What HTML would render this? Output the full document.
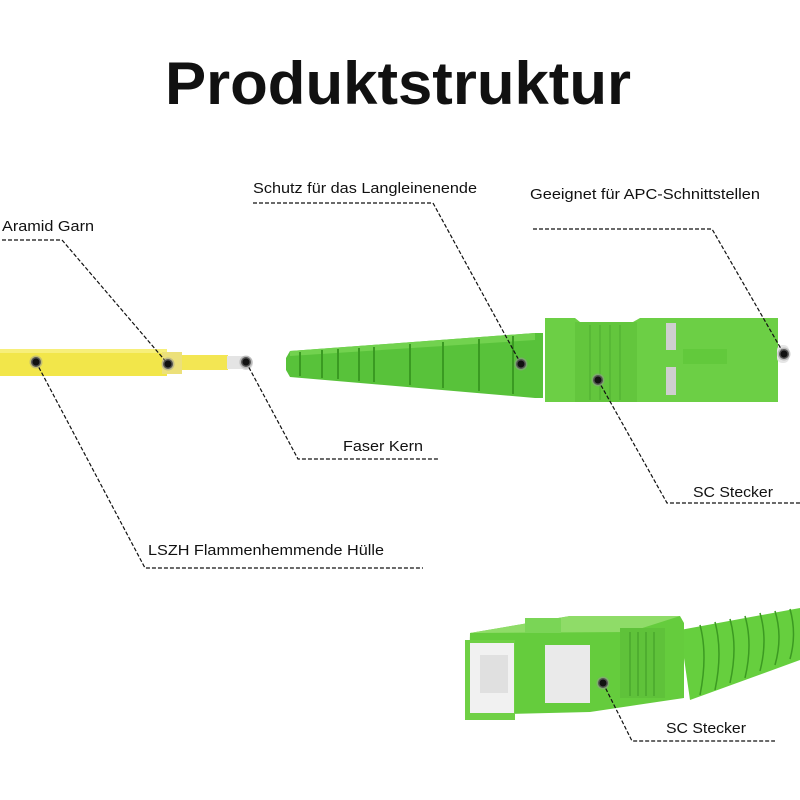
<!DOCTYPE html>
<html><head><meta charset="utf-8"><style>
html,body{margin:0;padding:0;background:#fff;}
svg{display:block;}
text{font-family:"Liberation Sans",Arial,sans-serif;fill:#111;}
</style></head><body>
<svg width="800" height="800" viewBox="0 0 800 800" xmlns="http://www.w3.org/2000/svg">
<text x="398" y="104" text-anchor="middle" font-size="60" font-weight="bold" textLength="466" lengthAdjust="spacingAndGlyphs" fill="#000">Produktstruktur</text>

<!-- yellow cable -->
<rect x="0" y="349" width="167" height="27" fill="#f2e64a"/>
<rect x="0" y="349" width="167" height="4" fill="#f7ef7a"/>
<rect x="162" y="352" width="20" height="22" fill="#ece07a"/>
<rect x="182" y="355" width="46" height="15" fill="#f3e653"/>
<rect x="227" y="356" width="22" height="13" fill="#e4e4e4"/>
<circle cx="246" cy="363" r="7" fill="#ddd"/>

<!-- green boot -->
<polygon points="290,351 535,333 543,333 543,398 535,398 290,377 286,370 286,358" fill="#58c23a"/>
<polygon points="290,351 535,333 535,340 290,356" fill="#72d24f"/>
<g stroke="#3a9a22" stroke-width="2">
<line x1="300" y1="352" x2="300" y2="376"/><line x1="322" y1="350" x2="322" y2="378"/>
<line x1="338" y1="349" x2="338" y2="379"/><line x1="359" y1="348" x2="359" y2="381"/>
<line x1="374" y1="347" x2="374" y2="382"/><line x1="410" y1="344" x2="410" y2="385"/>
<line x1="443" y1="342" x2="443" y2="388"/><line x1="479" y1="339" x2="479" y2="391"/>
<line x1="513" y1="336" x2="513" y2="394"/>
</g>

<!-- SC connector top -->
<polygon points="545,318 575,318 580,322 633,322 640,318 778,318 778,402 545,402" fill="#6ccf45"/>
<rect x="575" y="322" width="62" height="80" fill="#63c63d"/>
<g stroke="#55b535" stroke-width="1.5"><line x1="590" y1="325" x2="590" y2="400"/><line x1="600" y1="325" x2="600" y2="400"/><line x1="610" y1="325" x2="610" y2="400"/><line x1="620" y1="325" x2="620" y2="400"/></g>
<rect x="666" y="323" width="10" height="27" fill="#cfcfcf"/>
<rect x="666" y="367" width="10" height="28" fill="#cfcfcf"/>
<rect x="683" y="349" width="44" height="15" fill="#62c93c"/>
<rect x="777" y="345" width="12" height="18" rx="5" fill="#e6e6e6"/>

<!-- bottom connector -->
<polygon points="680,630 800,608 800,660 690,700" fill="#66cf3e"/>
<g stroke="#3c9a22" stroke-width="1.5" fill="none">
<path d="M700,625 q8,30 0,70"/><path d="M715,622 q8,30 0,68"/><path d="M730,619 q8,28 0,64"/><path d="M745,616 q8,28 0,62"/><path d="M760,613 q8,27 0,58"/><path d="M775,611 q8,26 0,54"/><path d="M790,609 q7,25 0,50"/>
</g>
<polygon points="470,633 570,616 680,616 684,623 684,698 590,712 468,715" fill="#65cc3d"/>
<polygon points="470,633 570,616 680,616 630,632" fill="#8fdc68"/>
<rect x="525" y="618" width="36" height="15" fill="#7ad556"/>
<rect x="465" y="640" width="50" height="80" fill="#6fd045"/>
<rect x="470" y="643" width="44" height="70" fill="#f1f1f1"/>
<rect x="480" y="655" width="28" height="38" fill="#e0e0e0"/>
<rect x="545" y="645" width="45" height="58" fill="#eaeaea"/>
<rect x="620" y="628" width="45" height="70" fill="#5fc23a"/>
<g stroke="#4aa82c" stroke-width="1.5"><line x1="630" y1="632" x2="630" y2="696"/><line x1="638" y1="632" x2="638" y2="696"/><line x1="646" y1="632" x2="646" y2="696"/><line x1="654" y1="632" x2="654" y2="696"/></g>

<!-- leader lines -->
<g stroke="#111" stroke-width="1.2" stroke-dasharray="4,2" fill="none">
<polyline points="2,240 62,240 168,364"/>
<polyline points="253,203 433,203 521,364"/>
<polyline points="533,229 712,229 784,354"/>
<polyline points="246,362 298,459 438,459"/>
<polyline points="598,380 667,503 800,503"/>
<polyline points="36,362 145,568 423,568"/>
<polyline points="603,683 632,741 775,741"/>
</g>

<!-- dots -->
<g fill="#111" stroke="rgba(150,150,150,0.5)" stroke-width="3">
<circle cx="36" cy="362" r="5"/><circle cx="168" cy="364" r="5"/><circle cx="246" cy="362" r="5"/>
<circle cx="521" cy="364" r="5"/><circle cx="598" cy="380" r="5"/><circle cx="784" cy="354" r="5"/>
<circle cx="603" cy="683" r="5"/>
</g>

<g font-size="15" lengthAdjust="spacingAndGlyphs">
<text x="2" y="231" textLength="92" lengthAdjust="spacingAndGlyphs">Aramid Garn</text>
<text x="253" y="193" textLength="224" lengthAdjust="spacingAndGlyphs">Schutz für das Langleinenende</text>
<text x="530" y="199" textLength="230" lengthAdjust="spacingAndGlyphs">Geeignet für APC-Schnittstellen</text>
<text x="343" y="451" textLength="80" lengthAdjust="spacingAndGlyphs">Faser Kern</text>
<text x="693" y="497" textLength="80" lengthAdjust="spacingAndGlyphs">SC Stecker</text>
<text x="148" y="555" textLength="236" lengthAdjust="spacingAndGlyphs">LSZH Flammenhemmende Hülle</text>
<text x="666" y="733" textLength="80" lengthAdjust="spacingAndGlyphs">SC Stecker</text>
</g>
</svg>
</body></html>
